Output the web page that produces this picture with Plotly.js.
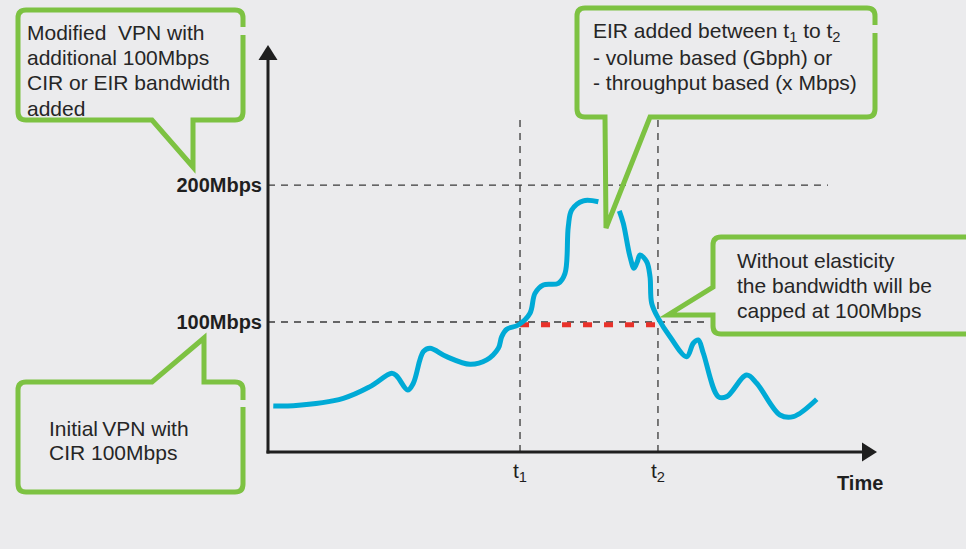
<!DOCTYPE html>
<html><head><meta charset="utf-8">
<script src="https://cdn.plot.ly/plotly-3.0.1.min.js"></script>
<style>html,body{margin:0;padding:0;background:#ebebed;}</style>
</head><body><div id="chart" style="width:966px;height:549px;"></div>
<script>
// ---- data ----
const t1 = 41.45, t2 = 64.14;
const timeBefore = [0.87,4.16,12.38,16.78,20.35,21.17,22.98,23.9,25.54,26.64,29.39,33.22,35.97,37.88,38.44,39.26,41.17,43.09,43.91,45.28,47.75,48.85,49.39,49.95,51.86,54.33];
const bwBefore   = [38.7,38.9,44.3,52.8,62.6,60.6,50.4,55.3,78.3,80.8,74.7,69.1,72.3,80.8,89.3,94.7,97.8,106.4,120.9,127.0,128.2,135.5,169.6,181.8,188.5,187.8];
const timeAfter  = [57.78,58.44,59.54,60.2,60.74,61.18,62.29,62.83,63.11,64.19,66.12,68.86,69.95,70.77,71.6,74.06,75.44,78.73,80.38,84.21,86.4,90.25];
const bwAfter    = [181.2,172.0,147.7,139.2,144.0,148.9,144.0,133.1,113.6,102.7,89.3,74.7,84.5,86.9,77.2,45.5,45.5,61.3,55.3,32.1,30.9,43.6];
const capTime = [t1, t2];
const capBw   = [98, 98];
const yTickVals = [100, 200];
const yTickText = ["100Mbps", "200Mbps"];
const xTickVals = [t1, t2];
const xTickText = ["t<sub>1</sub>", "t<sub>2</sub>"];
const callout1Lines = ["Modified\u00a0 VPN with", "additional 100Mbps", "CIR or EIR bandwidth", "added"];
const callout2Lines = ["EIR added between t<sub>1</sub> to t<sub>2</sub>", "- volume based (Gbph) or", "- throughput based (x Mbps)"];
const callout3Lines = ["Without elasticity", "the bandwidth will be", "capped at 100Mbps"];
const callout4Lines = ["Initial\u2009VPN with", "CIR 100Mbps"];
const axisTitleX = "Time";

// ---- styling ----
const FONT = "Liberation Sans, Arial, Helvetica, sans-serif";
const BG = "#ebebed", GREEN = "#7dc242", BLUE = "#00aad6", RED = "#e8322b", INK = "#1f1f1f", TXT = "#262626";

const time = timeBefore.concat([null], timeAfter);
const bw = bwBefore.concat([null], bwAfter);

const traces = [
  {x: capTime, y: capBw, type: "scatter", mode: "lines", line: {color: RED, width: 5, dash: "9px,12px"}, hoverinfo: "skip", showlegend: false},
  {x: time, y: bw, type: "scatter", mode: "lines", connectgaps: false, line: {color: BLUE, width: 5, shape: "spline", smoothing: 1}, hoverinfo: "skip", showlegend: false}
];

const GUIDE = {color: "#3a3a3a", width: 1.3, dash: "7px,6px"};
const shapes = [
  {type: "line", xref: "x", yref: "y", x0: 0, x1: 92.1, y0: 200, y1: 200, line: GUIDE, layer: "below"},
  {type: "line", xref: "x", yref: "y", x0: 0, x1: 71.9, y0: 100, y1: 100, line: GUIDE, layer: "below"},
  {type: "line", xref: "x", yref: "y", x0: t1, x1: t1, y0: 5.1, y1: 247.4, line: GUIDE, layer: "below"},
  {type: "line", xref: "x", yref: "y", x0: t2, x1: t2, y0: 5.1, y1: 247.4, line: GUIDE, layer: "below"},
  // axes with arrowheads (pixel space)
  {type: "line", xref: "x2", yref: "y2", x0: 268, x1: 268, y0: 453.5, y1: 56, line: {color: INK, width: 3}},
  {type: "line", xref: "x2", yref: "y2", x0: 266.5, x1: 865, y0: 452, y1: 452, line: {color: INK, width: 3}},
  {type: "path", xref: "x2", yref: "y2", path: "M 258.5,60 L 268,45 L 277.5,60 Z", fillcolor: INK, line: {width: 0}},
  {type: "path", xref: "x2", yref: "y2", path: "M 862,442.5 L 877,452 L 862,461.5 Z", fillcolor: INK, line: {width: 0}},
  // callouts
  {type: "path", xref: "x2", yref: "y2", line: {color: GREEN, width: 5},
   path: "M 243,35 V 112 Q 243,120 235,120 H 193 V 167 L 152,120 H 26 Q 18,120 18,112 V 18 Q 18,10 26,10 H 235 Q 243,10 243,18 V 27"},
  {type: "path", xref: "x2", yref: "y2", line: {color: GREEN, width: 5},
   path: "M 875,33 V 109 Q 875,117 867,117 H 650 L 606,228 L 605,117 H 585 Q 577,117 577,109 V 16 Q 577,8 585,8 H 867 Q 875,8 875,16 V 25"},
  {type: "path", xref: "x2", yref: "y2", line: {color: GREEN, width: 5},
   path: "M 985,237 H 721 Q 713,237 713,245 V 287 L 668,315 H 713 V 326 Q 713,334 721,334 H 985"},
  {type: "path", xref: "x2", yref: "y2", line: {color: GREEN, width: 5},
   path: "M 243,407 V 484 Q 243,492 235,492 H 26 Q 18,492 18,484 V 390 Q 18,382 26,382 H 152 L 204,338 V 382 H 235 Q 243,382 243,390 V 400"}
];

function lines(arr, x, yFirst, step) {
  return arr.map((t, i) => ({
    text: t, xref: "x2", yref: "y2", x: x, y: yFirst + i * step, xanchor: "left", yanchor: "middle",
    showarrow: false, align: "left", font: {family: FONT, size: 21, color: TXT}
  }));
}
const annotations = [].concat(
  lines(callout1Lines, 25, 32, 25.4),
  lines(callout2Lines, 591, 32, 25.4),
  lines(callout3Lines, 735, 260, 25),
  lines(callout4Lines, 47, 428, 24.6),
  [{text: "<b>" + axisTitleX + "</b>", xref: "x2", yref: "y2", x: 860, y: 483, xanchor: "center", yanchor: "middle",
    showarrow: false, font: {family: FONT, size: 20, color: INK}}]
);

const layout = {
  width: 966, height: 549,
  margin: {l: 0, r: 0, t: 0, b: 0, pad: 0},
  paper_bgcolor: BG, plot_bgcolor: "rgba(0,0,0,0)",
  showlegend: false,
  xaxis: {domain: [268/966, 876/966], range: [0, 100], showgrid: false, zeroline: false, showline: false,
          ticks: "", tickvals: xTickVals, ticktext: xTickText, ticklabelstandoff: 4,
          tickfont: {family: FONT, size: 21, color: INK}, fixedrange: true},
  yaxis: {domain: [97/549, 503/549], range: [5.1, 301.5], showgrid: false, zeroline: false, showline: false,
          ticks: "", tickvals: yTickVals, ticktext: yTickText, ticklabelstandoff: 5,
          tickfont: {family: FONT, size: 20, color: INK, weight: "bold"}, fixedrange: true},
  xaxis2: {domain: [0, 1], range: [0, 966], visible: false, anchor: "y2", fixedrange: true},
  yaxis2: {domain: [0, 1], range: [549, 0], visible: false, anchor: "x2", fixedrange: true},
  shapes: shapes,
  annotations: annotations
};

Plotly.newPlot("chart", traces, layout, {displayModeBar: false, staticPlot: true});
</script></body></html>
